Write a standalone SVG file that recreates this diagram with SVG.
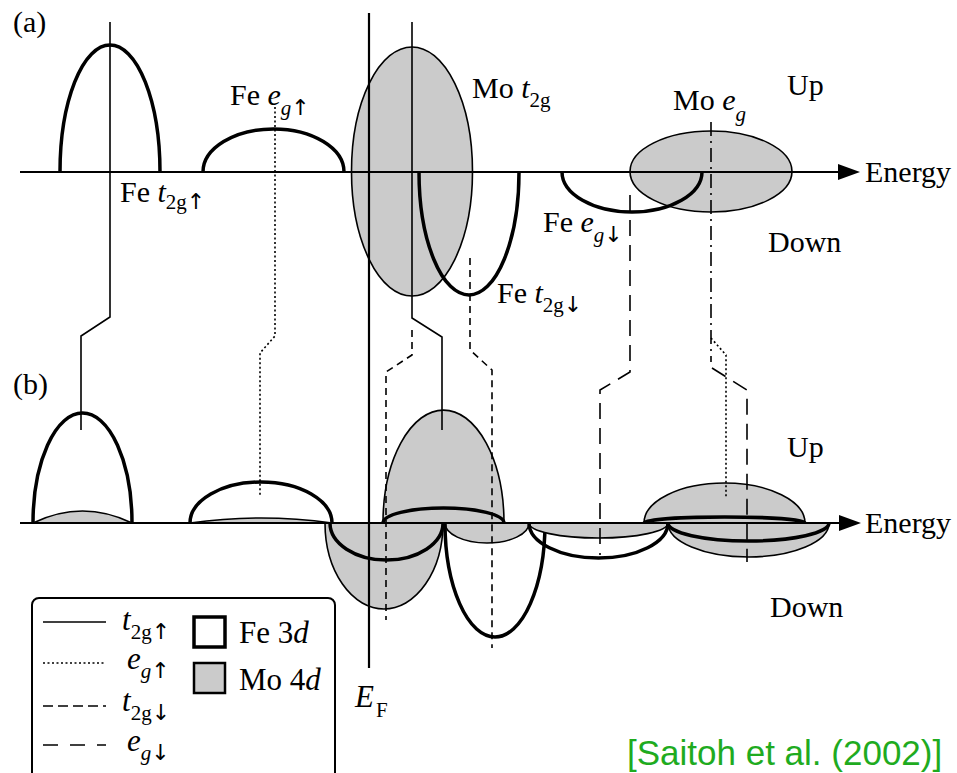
<svg xmlns="http://www.w3.org/2000/svg" width="957" height="773" viewBox="0 0 957 773">
<style>
.thick{fill:none;stroke:#000;stroke-width:3.5}
.gray{fill:#cbcbcb;stroke:#000;stroke-width:1.6}
.axis{stroke:#000;stroke-width:2;fill:none}
.conn{fill:none;stroke:#000;stroke-width:1.6}
.dot{stroke-dasharray:2 2.5}
.dash{stroke-dasharray:7 5}
.ldash{stroke-dasharray:16 9}
.dashdot{stroke-dasharray:14 5 2 5}
text{font-family:"Liberation Serif","Times New Roman",serif;font-size:30px;fill:#000}
.sub{font-size:21px}
.it{font-style:italic}
.ar{font-family:"DejaVu Sans",sans-serif;font-size:22px;font-style:normal;fill:#000}
.leg{font-size:31px}
.cite{font-family:"Liberation Sans",Arial,sans-serif;font-size:35px;fill:#1fab1f}
</style>
<defs>
<marker id="arr" viewBox="0 0 22 16" refX="0" refY="8" markerWidth="22" markerHeight="16" markerUnits="userSpaceOnUse" orient="auto">
<polygon points="0,0 22,8 0,16" fill="#000"/>
</marker>
</defs>
<rect width="957" height="773" fill="#fff"/>

<!-- Panel (a) -->
<g id="panel-a">
<text x="13" y="32">(a)</text>
<g id="a-mo-t2g"><ellipse cx="412" cy="171.5" rx="60.5" ry="124.5" class="gray"/></g>
<g id="a-mo-eg"><ellipse cx="711" cy="171.5" rx="81" ry="40.5" class="gray"/></g>
<g id="a-fe-t2g-up"><path class="thick" d="M60,172 A50,127 0 0 1 160,172"/></g>
<g id="a-fe-eg-up"><path class="thick" d="M203,172 A70.5,43 0 0 1 344,172"/></g>
<g id="a-fe-t2g-down"><path class="thick" d="M419,172 A50,123 0 0 0 519,172"/></g>
<g id="a-fe-eg-down"><path class="thick" d="M562,172 A70,40 0 0 0 702,172"/></g>
<line class="axis" x1="20" y1="172" x2="838" y2="172" marker-end="url(#arr)"/>
<text x="865" y="182">Energy</text>
<text x="787" y="95">Up</text>
<text x="768" y="252">Down</text>
<text x="120" y="202">Fe <tspan class="it">t</tspan><tspan class="sub" dy="7">2g</tspan><tspan class="ar">↑</tspan></text>
<text x="230" y="105">Fe <tspan class="it">e</tspan><tspan class="sub it" dy="10">g</tspan><tspan class="ar">↑</tspan></text>
<text x="472" y="98">Mo <tspan class="it">t</tspan><tspan class="sub" dy="9">2g</tspan></text>
<text x="673" y="110">Mo <tspan class="it">e</tspan><tspan class="sub it" dy="11">g</tspan></text>
<text x="543" y="232">Fe <tspan class="it">e</tspan><tspan class="sub it" dy="10">g</tspan><tspan class="ar">↓</tspan></text>
<text x="497" y="303">Fe <tspan class="it">t</tspan><tspan class="sub" dy="9">2g</tspan><tspan class="ar">↓</tspan></text>
</g>

<!-- Panel (b) -->
<g id="panel-b">
<text x="13" y="394">(b)</text>
<g id="b-fe-t2g-up">
<path class="gray" d="M33,523 Q82.5,499 132,523 Z"/>
<path class="thick" d="M33,523 A49.5,110 0 0 1 132,523"/>
</g>
<g id="b-fe-eg-up">
<path class="gray" d="M190,523 Q261,513 332,523 Z"/>
<path class="thick" d="M190,523 A71,41 0 0 1 332,523"/>
</g>
<g id="b-mo-t2g-down-left">
<path class="gray" d="M325,523 A59,86 0 0 0 443,523 Z"/>
<path class="thick" d="M330,523 A56.5,37 0 0 0 443,523"/>
</g>
<g id="b-mo-t2g-up">
<path class="gray" d="M383,523 A60.5,113 0 0 1 504,523 Z"/>
<path class="thick" d="M383,523 A60.5,15 0 0 1 504,523"/>
</g>
<g id="b-fe-t2g-down">
<path class="gray" d="M445,523 A42,20 0 0 0 529,523 Z"/>
<path class="thick" d="M445,523 A50,114 0 0 0 545,523"/>
</g>
<g id="b-fe-eg-down">
<path class="gray" d="M529,523 A69.5,15 0 0 0 668,523 Z"/>
<path class="thick" d="M529,523 A69.5,35 0 0 0 668,523"/>
</g>
<g id="b-mo-eg-up">
<path class="gray" d="M644,523 A80.5,40 0 0 1 805,523 Z"/>
<path class="thick" d="M644,523 A80.5,6 0 0 1 805,523"/>
</g>
<g id="b-mo-eg-down">
<path class="gray" d="M668,523 A80.5,34 0 0 0 829,523 Z"/>
<path class="thick" d="M668,523 A80.5,18 0 0 0 829,523"/>
</g>
<line class="axis" x1="20" y1="523" x2="839" y2="523" marker-end="url(#arr)"/>
<text x="865" y="533">Energy</text>
<text x="787" y="457">Up</text>
<text x="770" y="617">Down</text>
</g>

<!-- Connectors -->
<g id="connectors">
<line x1="369" y1="13" x2="369" y2="668" stroke="#000" stroke-width="2.2"/>
<path class="conn" d="M110,22 V317 L81,336 V430"/>
<path class="conn dot" d="M275,107 V336 L260,353 V497"/>
<path class="conn" d="M412,22 V318 L442,337 V430"/>
<path class="conn dash" d="M412,330 V355 L386,372 V620"/>
<path class="conn dash" d="M470,258 V350 L492,370 V648"/>
<path class="conn ldash" d="M630,195 V372 L600,390 V555"/>
<path class="conn dashdot" d="M711,122 V362"/>
<path class="conn dot" d="M711,338 L726,355 V497"/>
<path class="conn ldash" d="M712,368 L747,390 V562"/>
</g>
<text x="355" y="707" class="leg it">E</text><text x="376" y="717" class="sub">F</text>

<!-- Legend -->
<g id="legend">
<rect x="32" y="598" width="303" height="200" rx="7" fill="#fff" stroke="#000" stroke-width="2"/>
<line class="conn" x1="43" y1="622" x2="106" y2="622"/>
<line class="conn dot" x1="43" y1="663" x2="106" y2="663"/>
<line class="conn" x1="43" y1="706" x2="106" y2="706" stroke-dasharray="10 5"/>
<line class="conn" x1="43" y1="745" x2="106" y2="745" stroke-dasharray="15 12"/>
<text x="122" y="630" class="leg"><tspan class="it">t</tspan><tspan class="sub" dy="9">2g</tspan><tspan class="ar">↑</tspan></text>
<text x="127" y="669" class="leg"><tspan class="it">e</tspan><tspan class="sub it" dy="9">g</tspan><tspan class="ar">↑</tspan></text>
<text x="122" y="711" class="leg"><tspan class="it">t</tspan><tspan class="sub" dy="9">2g</tspan><tspan class="ar">↓</tspan></text>
<text x="127" y="751" class="leg"><tspan class="it">e</tspan><tspan class="sub it" dy="9">g</tspan><tspan class="ar">↓</tspan></text>
<rect x="194" y="617" width="31" height="30" fill="#fff" stroke="#000" stroke-width="3.5"/>
<rect x="194" y="663" width="31" height="30" fill="#cbcbcb" stroke="#000" stroke-width="2.5"/>
<text x="239" y="643" class="leg">Fe 3<tspan class="it">d</tspan></text>
<text x="239" y="690" class="leg">Mo 4<tspan class="it">d</tspan></text>
</g>

<text x="627" y="765" class="cite">[Saitoh et al. (2002)]</text>
</svg>
